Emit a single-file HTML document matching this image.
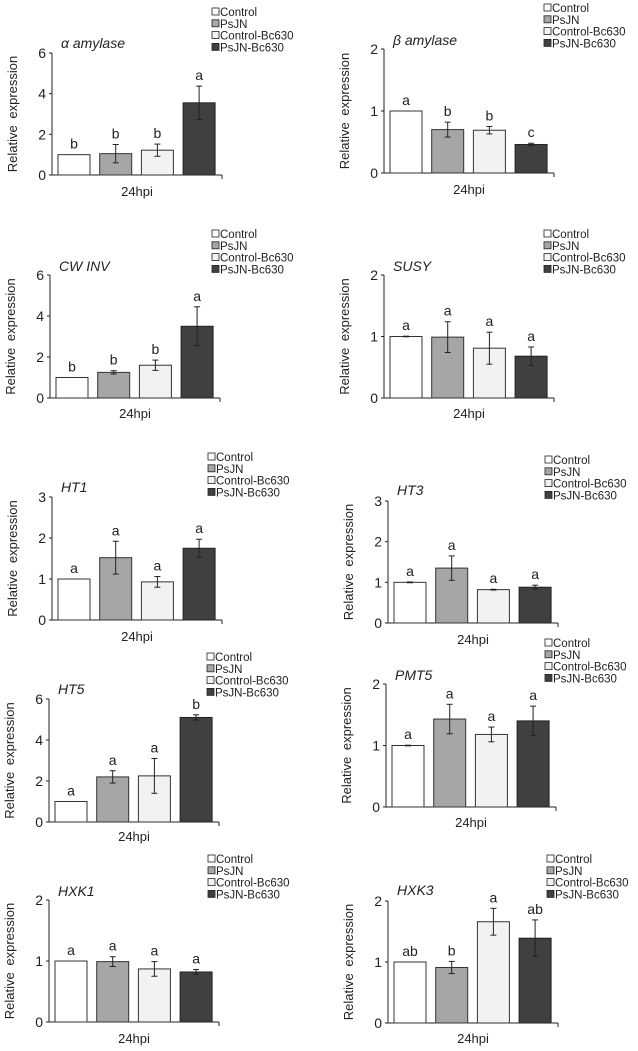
<!DOCTYPE html>
<html><head><meta charset="utf-8"><style>
body{margin:0;background:#fff}
svg{display:block;font-family:"Liberation Sans",sans-serif}
</style></head><body>
<svg id="fig" width="638" height="1051" viewBox="0 0 638 1051"></svg>
<script>
const titles=["α amylase","β amylase","CW INV","SUSY","HT1","HT3","HT5","PMT5","HXK1","HXK3"];
const categories=["Control","PsJN","Control-Bc630","PsJN-Bc630"];
const values=[[1,1.05,1.22,3.55],[1,0.7,0.69,0.46],[1,1.25,1.6,3.5],[1,0.99,0.81,0.68],[1,1.52,0.93,1.75],[1,1.35,0.82,0.88],[1,2.2,2.25,5.1],[1,1.43,1.18,1.4],[1,0.99,0.87,0.82],[1,0.91,1.66,1.39]];
const errors=[[0,0.45,0.3,0.82],[0,0.12,0.06,0.02],[0,0.08,0.25,0.95],[0.005,0.25,0.26,0.15],[0,0.4,0.13,0.22],[0.01,0.3,0.01,0.05],[0,0.3,0.85,0.13],[0.005,0.24,0.12,0.24],[0,0.08,0.12,0.04],[0,0.1,0.22,0.3]];
const letters=[["b","b","b","a"],["a","b","b","c"],["b","b","b","a"],["a","a","a","a"],["a","a","a","a"],["a","a","a","a"],["a","a","a","b"],["a","a","a","a"],["a","a","a","a"],["ab","b","a","ab"]];
const yMax=[6,2,6,2,3,3,6,2,2,2];
const yStep=[2,1,2,1,1,1,2,1,1,1];
// layout: axisX, yTopPx, y0Px, legendX, legendY, titleY, hpiY
const layout=[[52,53,175,212,12,43,192],[384,49,173,544,8,40,190],[50,275,398,212,234,266,414],[384,275,398,544,234,266,414],[52,497,620,208,457,487,637],[388,501,623,545,460,490,640],[49,699,822,207,657,689,837],[386,684,807,545,643,675,823],[49,900,1022,208,859,891,1039],[388,901,1023,547,859,890,1039]];
const fills=["#ffffff","#a6a6a6","#f2f2f2","#404040"];
const NS="http://www.w3.org/2000/svg";
const svg=document.getElementById('fig');
function mk(tag,attrs,parent,text){const e=document.createElementNS(NS,tag);for(const k in attrs)e.setAttribute(k,attrs[k]);if(text!==undefined)e.textContent=text;parent.appendChild(e);return e;}
titles.forEach((t,p)=>{
  const [ax,yt,y0,lx,ly,ty,hy]=layout[p];
  const g=mk('g',{},svg);
  
  
  const ys=v=>y0-(v/yMax[p])*(y0-yt);
  const xs=i=>ax+6+i*41.7;
  // axes
  const yaxis=mk('line',{x1:ax,y1:yt,x2:ax,y2:y0,stroke:'#222','stroke-width':1},g);
  
  
  const xaxis=mk('line',{x1:ax-3,y1:y0,x2:ax+170,y2:y0,stroke:'#222','stroke-width':1},g);
  
  
  mk('line',{x1:ax+170,y1:y0,x2:ax+170,y2:y0+4,stroke:'#222'},g);
  for(let v=0;v<=yMax[p];v+=yStep[p]){
    mk('line',{x1:ax-3,y1:ys(v),x2:ax,y2:ys(v),stroke:'#222'},g);
    const tl=mk('text',{x:ax-6,y:ys(v)+5,'text-anchor':'end','font-size':14,fill:'#222'},g,String(v));
    
    
  }
  const yl=mk('text',{x:0,y:0,transform:`translate(${ax-35},${(yt+y0)/2}) rotate(-90)`,'text-anchor':'middle','font-size':13,fill:'#222','word-spacing':3},g,'Relative expression');
  
  
  const xl=mk('text',{x:ax+85,y:hy+4,'text-anchor':'middle','font-size':13,fill:'#222'},g,'24hpi');
  
  
  const tt=mk('text',{x:ax+9,y:ty+5,'font-size':14,'font-style':'italic',fill:'#222'},g,t);
  
  
  values[p].forEach((v,i)=>{
    const b=mk('rect',{x:xs(i),y:ys(v),width:32,height:y0-ys(v),fill:fills[i],stroke:i===3?'#222':'#333','stroke-width':1},g);
    
    
    const e=errors[p][i],cx=xs(i)+16;
    if(e>0.001){
      const eg=mk('g',{stroke:'#222','stroke-width':1},g);
      
      
      mk('line',{x1:cx,y1:ys(v+e),x2:cx,y2:ys(v-e)},eg);
      mk('line',{x1:cx-3,y1:ys(v+e),x2:cx+3,y2:ys(v+e)},eg);
      mk('line',{x1:cx-3,y1:ys(v-e),x2:cx+3,y2:ys(v-e)},eg);
    }
    const lt=mk('text',{x:cx,y:ys(v+e)-6,'text-anchor':'middle','font-size':14,fill:'#222'},g,letters[p][i]);
    
    
  });
  const lg=mk('g',{},g);
  
  
  categories.forEach((c,i)=>{
    const yy=ly+i*11.8;
    const e=mk('g',{},lg);
    
    
    mk('rect',{x:lx,y:yy-4,width:7,height:7,fill:fills[i],stroke:'#222','stroke-width':0.8},e);
    mk('text',{x:lx+8,y:yy+4,'font-size':11.5,fill:'#222'},e,c);
  });
});
</script>
</body></html>
